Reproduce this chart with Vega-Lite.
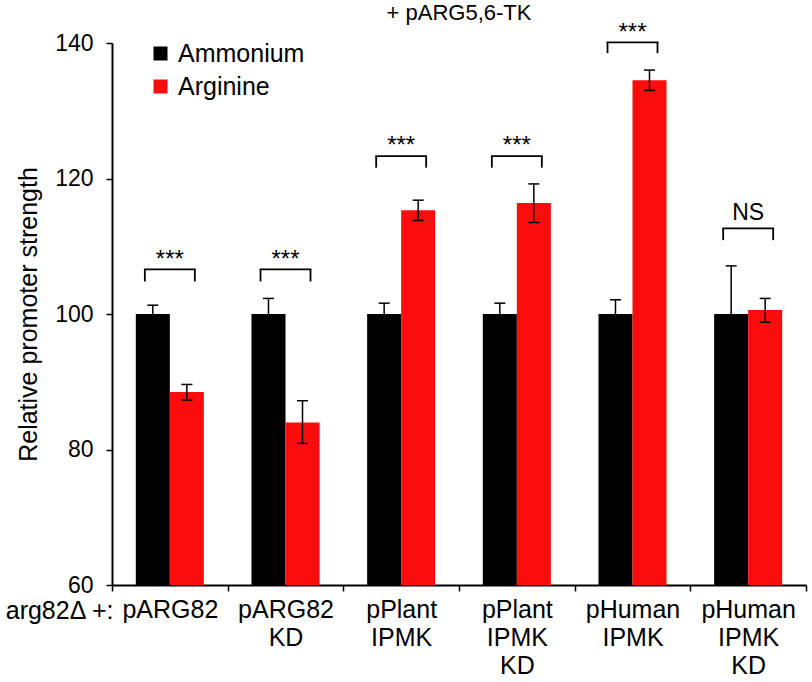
{
  "$schema": "https://vega.github.io/schema/vega-lite/v6.json",
  "width": 694,
  "height": 542,
  "autosize": {"type": "none"},
  "padding": {"left": 112, "top": 43, "right": 6, "bottom": 97},
  "background": "white",
  "title": {"text": "+ pARG5,6-TK", "fontSize": 22, "fontWeight": "normal", "font": "Liberation Sans", "color": "black", "anchor": "middle", "offset": -4},
  "config": {
    "font": "Liberation Sans",
    "view": {"stroke": null},
    "axis": {"grid": false, "domainColor": "black", "tickColor": "black", "labelColor": "black", "titleColor": "black", "labelFont": "Liberation Sans", "titleFont": "Liberation Sans"}
  },
  "datasets": {
    "bars": [
      {"group": "pARG82", "condition": "Ammonium", "value": 100, "lo": 98.7, "hi": 101.3},
      {"group": "pARG82", "condition": "Arginine", "value": 88.5, "lo": 87.3, "hi": 89.6},
      {"group": "pARG82|KD", "condition": "Ammonium", "value": 100, "lo": 97.7, "hi": 102.3},
      {"group": "pARG82|KD", "condition": "Arginine", "value": 84.0, "lo": 80.9, "hi": 87.2},
      {"group": "pPlant|IPMK", "condition": "Ammonium", "value": 100, "lo": 98.4, "hi": 101.6},
      {"group": "pPlant|IPMK", "condition": "Arginine", "value": 115.3, "lo": 113.8, "hi": 116.8},
      {"group": "pPlant|IPMK|KD", "condition": "Ammonium", "value": 100, "lo": 98.4, "hi": 101.6},
      {"group": "pPlant|IPMK|KD", "condition": "Arginine", "value": 116.4, "lo": 113.5, "hi": 119.2},
      {"group": "pHuman|IPMK", "condition": "Ammonium", "value": 100, "lo": 97.9, "hi": 102.1},
      {"group": "pHuman|IPMK", "condition": "Arginine", "value": 134.5, "lo": 133.0, "hi": 136.0},
      {"group": "pHuman|IPMK|KD", "condition": "Ammonium", "value": 100, "lo": 92.9, "hi": 107.1},
      {"group": "pHuman|IPMK|KD", "condition": "Arginine", "value": 100.6, "lo": 98.8, "hi": 102.3}
    ],
    "brackets": [
      {"group": "pARG82", "side": "L", "top": 106.6, "bottom": 104.8},
      {"group": "pARG82", "side": "R", "top": 106.6, "bottom": 104.8},
      {"group": "pARG82|KD", "side": "L", "top": 106.6, "bottom": 104.8},
      {"group": "pARG82|KD", "side": "R", "top": 106.6, "bottom": 104.8},
      {"group": "pPlant|IPMK", "side": "L", "top": 123.3, "bottom": 121.6},
      {"group": "pPlant|IPMK", "side": "R", "top": 123.3, "bottom": 121.6},
      {"group": "pPlant|IPMK|KD", "side": "L", "top": 123.3, "bottom": 121.6},
      {"group": "pPlant|IPMK|KD", "side": "R", "top": 123.3, "bottom": 121.6},
      {"group": "pHuman|IPMK", "side": "L", "top": 140.1, "bottom": 138.5},
      {"group": "pHuman|IPMK", "side": "R", "top": 140.1, "bottom": 138.5},
      {"group": "pHuman|IPMK|KD", "side": "L", "top": 112.65, "bottom": 110.9},
      {"group": "pHuman|IPMK|KD", "side": "R", "top": 112.65, "bottom": 110.9}
    ],
    "sig": [
      {"group": "pARG82", "label": "***", "y": 106.9},
      {"group": "pARG82|KD", "label": "***", "y": 106.9},
      {"group": "pPlant|IPMK", "label": "***", "y": 123.7},
      {"group": "pPlant|IPMK|KD", "label": "***", "y": 123.7},
      {"group": "pHuman|IPMK", "label": "***", "y": 140.5},
      {"group": "pHuman|IPMK|KD", "label": "NS", "y": 113.9}
    ]
  },
  "encoding": {
    "x": {
      "field": "group", "type": "nominal",
      "sort": ["pARG82", "pARG82|KD", "pPlant|IPMK", "pPlant|IPMK|KD", "pHuman|IPMK", "pHuman|IPMK|KD"],
      "scale": {"type": "band", "paddingInner": 0, "paddingOuter": 0},
      "axis": {
        "orient": "bottom", "tickBand": "extent", "ticks": true, "tickSize": 6, "tickWidth": 1.5, "domainWidth": 2,
        "labelAngle": 0, "labelFontSize": 25, "labelLineHeight": 28, "labelPadding": 6, "labelBaseline": "top",
        "labelExpr": "split(datum.label, '|')", "labelFlush": false, "labelBound": false, "labelOverlap": false, "labelLimit": 0,
        "title": "arg82Δ +:", "titleAlign": "right", "titleX": 1, "titleY": 33, "titleBaseline": "alphabetic",
        "titleFontSize": 25, "titleFontWeight": "normal", "titleAnchor": null
      }
    },
    "y": {
      "type": "quantitative",
      "scale": {"domain": [60, 140], "zero": false, "nice": false},
      "axis": {
        "values": [60, 80, 100, 120, 140], "tickSize": 6, "tickWidth": 1.5, "domainWidth": 2,
        "labelFontSize": 23, "labelPadding": 13,
        "title": "Relative promoter strength", "titleFontSize": 25, "titleFontWeight": "normal", "titlePadding": 13
      }
    }
  },
  "layer": [
    {
      "data": {"name": "bars"},
      "mark": {"type": "bar", "clip": false},
      "encoding": {
        "y": {"field": "value", "type": "quantitative"},
        "y2": {"datum": 60},
        "xOffset": {"field": "condition", "type": "nominal", "scale": {"domain": ["Ammonium", "Arginine"], "paddingInner": 0, "paddingOuter": 0.7}},
        "color": {
          "field": "condition", "type": "nominal",
          "scale": {"domain": ["Ammonium", "Arginine"], "range": ["#000000", "#fc0d0d"]},
          "legend": {
            "title": null, "orient": "none", "legendX": 36, "legendY": -2, "padding": 0,
            "symbolType": "square", "symbolSize": 196, "symbolStrokeWidth": 0, "symbolOpacity": 1,
            "labelFontSize": 25, "labelOffset": 5, "rowPadding": 7, "labelColor": "black", "labelFont": "Liberation Sans"
          }
        }
      }
    },
    {
      "data": {"name": "bars"},
      "mark": {"type": "rule", "color": "black", "strokeWidth": 1.5},
      "encoding": {
        "y": {"field": "lo", "type": "quantitative"},
        "y2": {"field": "hi"},
        "xOffset": {"field": "condition", "type": "nominal", "scale": {"domain": ["Ammonium", "Arginine"], "paddingInner": 0, "paddingOuter": 0.7}}
      }
    },
    {
      "data": {"name": "bars"},
      "mark": {"type": "tick", "color": "black", "thickness": 1.5, "size": 11, "opacity": 1},
      "encoding": {
        "y": {"field": "hi", "type": "quantitative"},
        "xOffset": {"field": "condition", "type": "nominal", "scale": {"domain": ["Ammonium", "Arginine"], "paddingInner": 0, "paddingOuter": 0.7}}
      }
    },
    {
      "data": {"name": "bars"},
      "mark": {"type": "tick", "color": "black", "thickness": 1.5, "size": 11, "opacity": 1},
      "encoding": {
        "y": {"field": "lo", "type": "quantitative"},
        "xOffset": {"field": "condition", "type": "nominal", "scale": {"domain": ["Ammonium", "Arginine"], "paddingInner": 0, "paddingOuter": 0.7}}
      }
    },
    {
      "data": {"name": "brackets"},
      "mark": {"type": "rule", "color": "black", "strokeWidth": 1.8, "clip": false},
      "encoding": {
        "y": {"field": "top", "type": "quantitative"},
        "y2": {"field": "bottom"},
        "xOffset": {"field": "side", "type": "nominal", "scale": {"domain": ["L", "R"], "paddingInner": 0, "paddingOuter": 0.157}}
      }
    },
    {
      "data": {"name": "brackets"},
      "transform": [{"filter": "datum.side === 'L'"}],
      "mark": {"type": "tick", "color": "black", "thickness": 1.8, "size": 51.8, "opacity": 1, "clip": false},
      "encoding": {
        "y": {"field": "top", "type": "quantitative"}
      }
    },
    {
      "data": {"name": "sig"},
      "mark": {"type": "text", "color": "black", "baseline": "alphabetic", "align": "center", "clip": false, "font": "Liberation Sans"},
      "encoding": {
        "y": {"field": "y", "type": "quantitative"},
        "text": {"field": "label"},
        "size": {"condition": {"test": "datum.label === 'NS'", "value": 23}, "value": 24}
      }
    }
  ],
  "resolve": {"scale": {"xOffset": "independent"}}
}
